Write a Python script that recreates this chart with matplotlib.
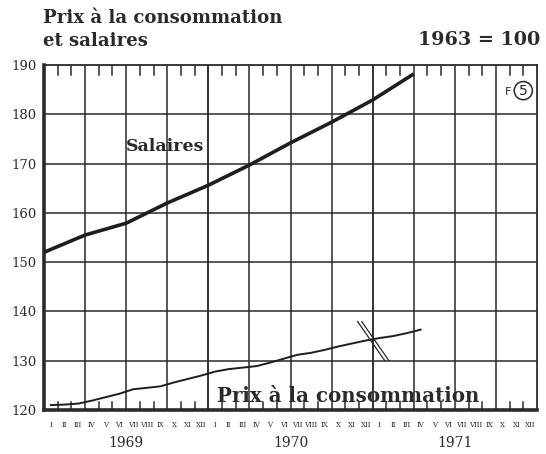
import matplotlib
matplotlib.use("Agg")
import matplotlib.pyplot as plt
import numpy as np

# ---------- data ----------
# salaires, read at quarter boundaries (months from Jan 1969)
sal_month = [0, 3, 6, 9, 12, 15, 18, 21, 24, 27]
sal_value = [152.0, 155.5, 157.9, 162.0, 165.6, 169.7, 174.2, 178.4, 182.9, 188.2]

# prix a la consommation, monthly (mid-month), Jan 1969 -> Apr 1971
prix_value = [121.0, 121.1, 121.3, 121.9, 122.6, 123.3, 124.2, 124.5, 124.8, 125.6,
              126.3, 127.0, 127.8, 128.3, 128.6, 128.9, 129.6, 130.4, 131.2, 131.6,
              132.2, 132.9, 133.5, 134.1, 134.6, 135.0, 135.6, 136.3]
prix_month = [i + 0.5 for i in range(len(prix_value))]

months = ["I", "II", "III", "IV", "V", "VI", "VII", "VIII", "IX", "X", "XI", "XII"]
years = ["1969", "1970", "1971"]
y_ticks = [120, 130, 140, 150, 160, 170, 180, 190]

serif = "DejaVu Serif"
ink = "#2a2a2a"

fig = plt.figure(figsize=(5.46, 4.54), dpi=100)
ax = fig.add_axes([44 / 546, 44 / 454, 493 / 546, 345 / 454])

ax.set_xlim(0, 36)
ax.set_ylim(120, 190)

# grid: quarters vertically, every 10 horizontally
for q in range(3, 36, 3):
    lw = 1.35 if q % 12 == 0 else 1.1
    ax.axvline(q, color=ink, lw=lw, zorder=1)
for v in y_ticks[1:-1]:
    ax.axhline(v, color=ink, lw=1.1, zorder=1)

# month ticks inside, top and bottom
for m in range(1, 36):
    if m % 3 == 0:
        continue
    ax.plot([m, m], [190, 187.9], color=ink, lw=1.1, zorder=1)
    ax.plot([m, m], [120, 121.7], color=ink, lw=1.1, zorder=1)

ax.plot(sal_month, sal_value, color="#1e1e1e", lw=2.6, solid_capstyle="butt", zorder=3)
ax.plot(prix_month, prix_value, color="#1e1e1e", lw=1.4, zorder=3)

# break mark on the price line at the end of 1970
yb = np.interp(24, prix_month, prix_value)
for off in (-0.15, 0.15):
    ax.plot([24 - 0.95 + off, 24 + 1.05 + off], [yb + 3.6, yb - 4.4],
            color=ink, lw=0.9, zorder=4)

for side in ("left", "bottom"):
    ax.spines[side].set_linewidth(2.6)
for side in ("top", "right"):
    ax.spines[side].set_linewidth(1.3)
for s in ax.spines.values():
    s.set_color(ink)

ax.set_yticks(y_ticks)
ax.set_yticklabels([str(v) for v in y_ticks], fontfamily=serif, fontsize=9.5, color=ink)
ax.tick_params(axis="y", length=0, pad=5)
ax.set_xticks([])

# month and year labels
for i in range(36):
    ax.text(i + 0.5, 117.0, months[i % 12], ha="center", va="center",
            fontfamily=serif, fontsize=5, color=ink)
for k, yr in enumerate(years):
    ax.text(k * 12 + 6, 113.3, yr, ha="center", va="center",
            fontfamily=serif, fontsize=10, color=ink)

ax.text(6.0, 172.6, "Salaires", fontfamily=serif, fontweight="bold",
        fontsize=12.5, color=ink, zorder=5)
ax.text(12.6, 121.6, "Prix à la consommation", fontfamily=serif, fontweight="bold",
        fontsize=14.3, color=ink, zorder=5)

ax.text(33.9, 184.6, "F", fontfamily="DejaVu Sans", fontsize=8, color=ink,
        ha="center", va="center")
ax.text(35.0, 184.8, "5", fontfamily="DejaVu Sans", fontsize=10, color=ink,
        ha="center", va="center",
        bbox=dict(boxstyle="circle,pad=0.15", fc="white", ec=ink, lw=1.1))

fig.text(43 / 546, 1 - 18 / 454, "Prix à la consommation", fontfamily=serif,
         fontweight="bold", fontsize=13.1, color=ink, va="center")
fig.text(43 / 546, 1 - 41 / 454, "et salaires", fontfamily=serif,
         fontweight="bold", fontsize=13.1, color=ink, va="center")
fig.text(540 / 546, 1 - 40 / 454, "1963 = 100", fontfamily=serif,
         fontweight="bold", fontsize=13.8, color=ink, va="center", ha="right")

fig.savefig("out.png", dpi=100)
